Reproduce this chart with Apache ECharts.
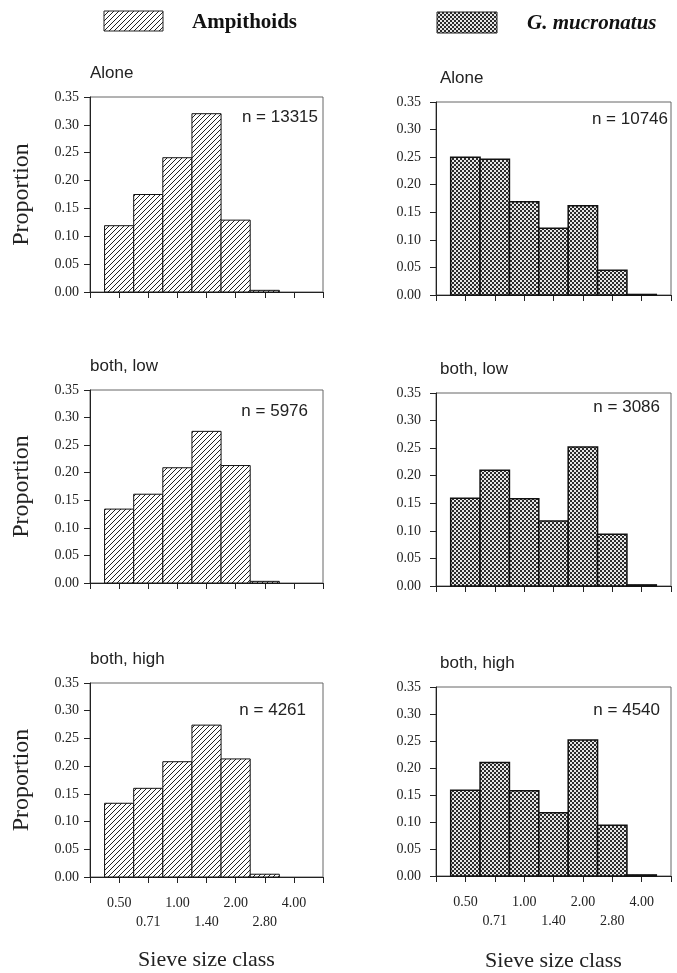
<!DOCTYPE html>
<html>
<head>
<meta charset="utf-8">
<script src="https://cdn.jsdelivr.net/npm/echarts@6/dist/echarts.min.js"></script>
<style>
html, body { margin: 0; background: #fff; }
#main { width: 677px; height: 973px; }
</style>
</head>
<body>
<div id="main"></div>
<script>
// sieve size classes (mm), one bar per class
var sizeClasses = ['0.50', '0.71', '1.00', '1.40', '2.00', '2.80', '4.00'];
var panelNames = ['Alone', 'both, low', 'both, high'];

// proportions
var ampAlone = [0.119, 0.175, 0.241, 0.320, 0.129, 0.003, 0];
var ampLow   = [0.134, 0.161, 0.209, 0.275, 0.213, 0.003, 0];
var ampHigh  = [0.133, 0.160, 0.208, 0.274, 0.213, 0.005, 0];
var gmAlone  = [0.250, 0.246, 0.169, 0.121, 0.162, 0.045, 0.001];
var gmLow    = [0.159, 0.210, 0.158, 0.118, 0.252, 0.094, 0.002];
var gmHigh   = [0.159, 0.210, 0.158, 0.117, 0.252, 0.094, 0.002];

var ampN = [13315, 5976, 4261];
var gmN = [10746, 3086, 4540];

var serif = '"Liberation Serif", "Times New Roman", serif';
var sans = '"Liberation Sans", Arial, sans-serif';

// hatch "/" pattern for Ampithoids
function hatchCanvas() {
    var s = 5;
    var c = document.createElement('canvas');
    c.width = s; c.height = s;
    var ctx = c.getContext('2d');
    ctx.fillStyle = '#fff';
    ctx.fillRect(0, 0, s, s);
    ctx.strokeStyle = '#222';
    ctx.lineWidth = 1;
    ctx.beginPath();
    ctx.moveTo(-1, s + 1); ctx.lineTo(s + 1, -1);
    ctx.moveTo(-1, 1); ctx.lineTo(1, -1);
    ctx.moveTo(s - 1, s + 1); ctx.lineTo(s + 1, s - 1);
    ctx.stroke();
    return c;
}

// checker pattern for G. mucronatus
function checkCanvas() {
    var c = document.createElement('canvas');
    c.width = 4; c.height = 4;
    var ctx = c.getContext('2d');
    ctx.fillStyle = '#2b2b2b';
    ctx.fillRect(0, 0, 4, 4);
    ctx.fillStyle = '#e6e6e6';
    ctx.fillRect(0, 0, 2, 2);
    ctx.fillRect(2, 2, 2, 2);
    return c;
}

var hatch = { image: hatchCanvas(), repeat: 'repeat' };
var check = { image: checkCanvas(), repeat: 'repeat' };

var chart = echarts.init(document.getElementById('main'));

// panel boxes: [left, top, width, height]
var boxes = [
    [90, 97, 233, 195], [436, 102, 235, 193],
    [90, 390, 233, 193], [436, 393, 235, 193],
    [90, 683, 233, 194], [436, 687, 235, 191]
];
var panelData = [ampAlone, gmAlone, ampLow, gmLow, ampHigh, gmHigh];

var grids = [], xAxes = [], yAxes = [], series = [], graphics = [];

boxes.forEach(function (b, i) {
    var right = i % 2 === 1;
    var row = Math.floor(i / 2);
    var bottom = row === 2;

    grids.push({
        left: b[0], top: b[1], width: b[2], height: b[3],
        show: true, borderColor: '#666', borderWidth: 1, backgroundColor: 'transparent'
    });

    xAxes.push({
        type: 'value', gridIndex: i, min: 0, max: 8, interval: 1,
        axisLine: { show: true, onZero: false, lineStyle: { color: '#222', width: 1 } },
        axisTick: { show: true, inside: false, length: 6, lineStyle: { color: '#222' } },
        splitLine: { show: false },
        axisLabel: {
            show: bottom, margin: 17, lineHeight: 19,
            fontFamily: serif, fontSize: 14, color: '#222',
            formatter: function (v) {
                var k = Math.round(v) - 1;
                if (k < 0 || k > 6) return '';
                return k % 2 ? '\n' + sizeClasses[k] : sizeClasses[k];
            }
        },
        name: bottom ? 'Sieve size class' : '',
        nameLocation: 'middle', nameGap: right ? 74 : 72,
        nameTextStyle: { fontFamily: serif, fontSize: 22, color: '#222' }
    });

    yAxes.push({
        type: 'value', gridIndex: i, min: 0, max: 0.35, interval: 0.05,
        axisLine: { show: true, lineStyle: { color: '#222', width: 1 } },
        axisTick: { show: true, inside: false, length: 6, lineStyle: { color: '#222' } },
        splitLine: { show: false },
        axisLabel: {
            margin: right ? 15 : 11,
            fontFamily: serif, fontSize: 14, color: '#222',
            formatter: function (v) { return v.toFixed(2); }
        },
        name: right ? '' : 'Proportion',
        nameLocation: 'middle', nameGap: 56, nameRotate: 90,
        nameTextStyle: { fontFamily: serif, fontSize: 24, color: '#222' }
    });

    var fill = right ? check : hatch;
    var lw = right ? 1.5 : 1;
    series.push({
        type: 'custom', xAxisIndex: i, yAxisIndex: i,
        data: panelData[i].map(function (v, k) { return [k + 1, v]; }),
        renderItem: function (params, api) {
            var x = api.value(0), y = api.value(1);
            if (!y) return null;
            var a = api.coord([x - 0.5, 0]);
            var c = api.coord([x + 0.5, y]);
            return {
                type: 'rect',
                shape: { x: a[0], y: c[1], width: c[0] - a[0], height: a[1] - c[1] },
                style: { fill: fill, stroke: '#111', lineWidth: lw }
            };
        }
    });

    // panel name above the box
    graphics.push({
        type: 'text', left: b[0] + (right ? 4 : 0), top: b[1] - 32,
        style: { text: panelNames[row], font: '17px ' + sans, fill: '#222' }
    });
});

// sample sizes inside each box (top right)
var nPos = [[318, 117], [668, 119], [308, 411], [660, 407], [306, 710], [660, 710]];
nPos.forEach(function (p, i) {
    var n = (i % 2 ? gmN : ampN)[Math.floor(i / 2)];
    graphics.push({
        type: 'text', x: p[0], y: p[1],
        style: { text: 'n = ' + n, font: '17px ' + sans, fill: '#222', align: 'right', verticalAlign: 'middle' }
    });
});

// legend
graphics.push(
    { type: 'rect', shape: { x: 104, y: 11, width: 59, height: 20 }, style: { fill: hatch, stroke: '#222', lineWidth: 1 } },
    { type: 'text', x: 192, y: 23, style: { text: 'Ampithoids', font: 'bold 21px ' + serif, fill: '#111', verticalAlign: 'middle' } },
    { type: 'rect', shape: { x: 437, y: 12, width: 60, height: 21 }, style: { fill: check, stroke: '#222', lineWidth: 1 } },
    { type: 'text', x: 527, y: 24, style: { text: 'G. mucronatus', font: 'italic bold 21px ' + serif, fill: '#111', verticalAlign: 'middle' } }
);

var option = {
    backgroundColor: '#fff',
    animation: false,
    grid: grids,
    xAxis: xAxes,
    yAxis: yAxes,
    series: series,
    graphic: graphics
};

option && chart.setOption(option);
</script>
</body>
</html>
